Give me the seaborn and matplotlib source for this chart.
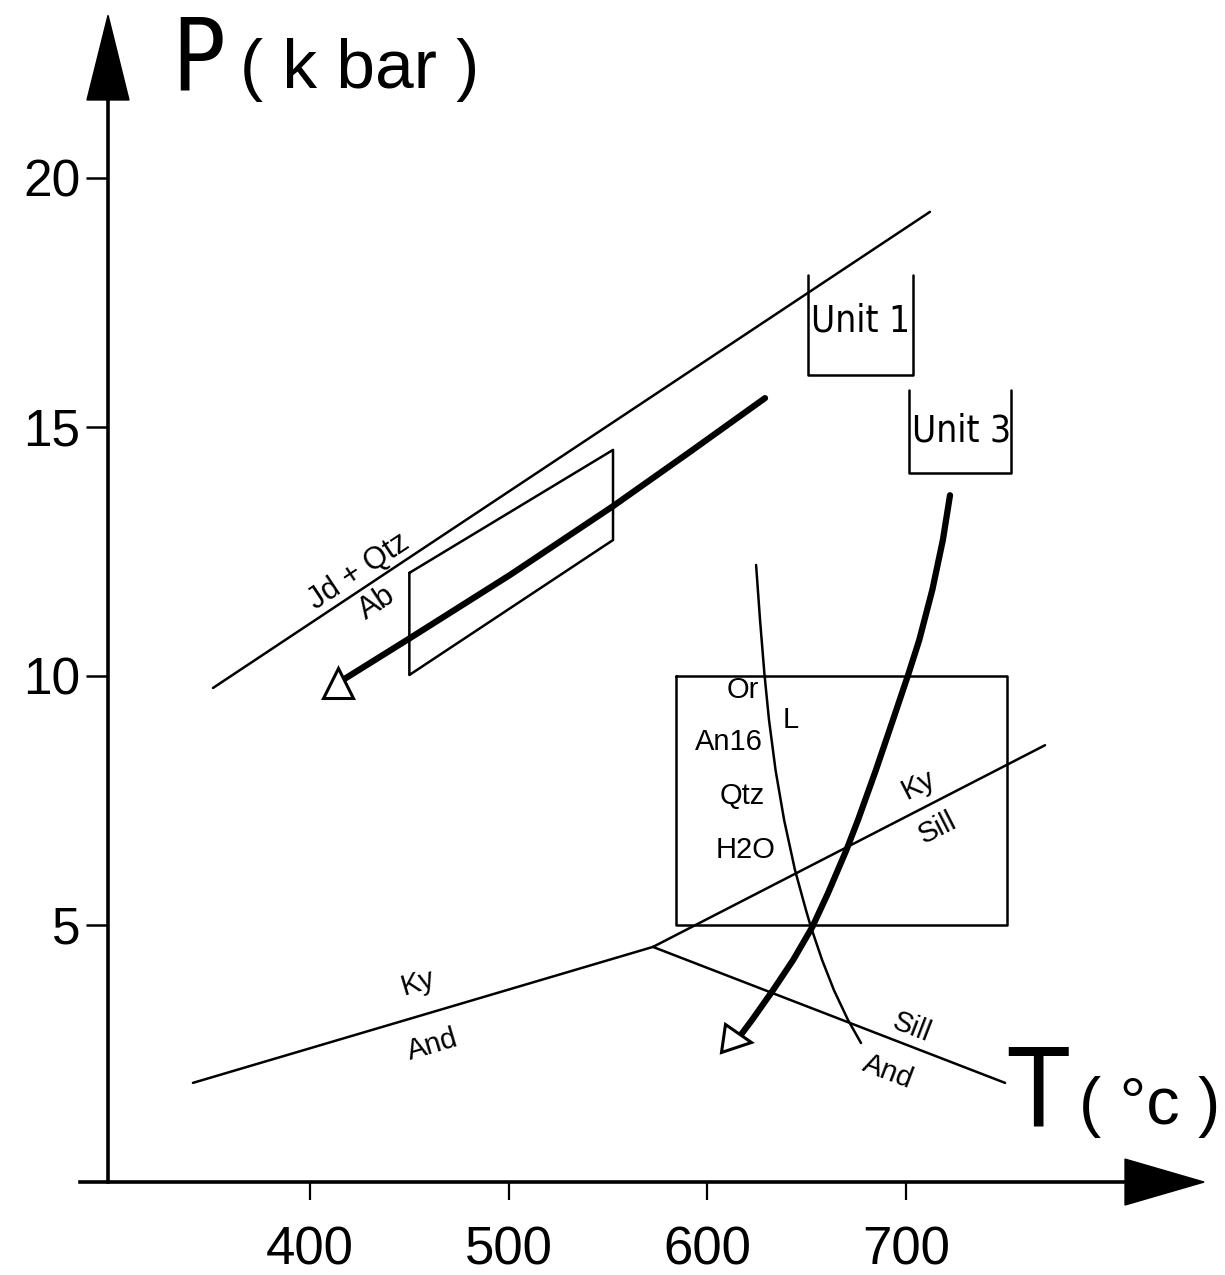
import matplotlib
matplotlib.use("Agg")
import matplotlib.pyplot as plt
from matplotlib import font_manager
from matplotlib.markers import MarkerStyle
from matplotlib.transforms import Affine2D
import numpy as np
import pandas as pd
import seaborn as sns

# ---------------- data (T in deg C, P in kbar) ----------------
jd_T = [351.2, 712.0]
jd_P = [9.76, 19.32]

para_T = [450.0, 552.5, 552.5, 450.0, 450.0]
para_P = [12.07, 14.54, 12.73, 10.02, 12.07]

path1_T = [629.0, 591.2, 552.5, 500.7, 450.3, 414.1]
path1_P = [15.58, 14.50, 13.41, 12.03, 10.76, 9.86]

path3_T = [722.1, 718.5, 713.2, 706.6, 701.0, 693.4, 684.8, 675.8, 670.0,
           660.7, 652.8, 643.2, 633.0, 622.4, 614.9]
path3_P = [13.63, 12.73, 11.73, 10.72, 10.02, 9.12, 8.11, 7.11, 6.51,
           5.64, 4.96, 4.30, 3.69, 3.09, 2.69]

melt_T = [624.5, 626.5, 628.7, 631.0, 634.3, 638.6, 644.1, 649.6, 652.1,
          657.7, 663.7, 670.8, 677.3]
melt_P = [12.23, 11.12, 10.04, 9.12, 8.11, 7.11, 6.10, 5.30, 4.96,
          4.30, 3.69, 3.09, 2.63]

rect_T = [584.0, 751.0, 751.0, 584.0, 584.0]
rect_P = [10.0, 10.0, 5.0, 5.0, 10.0]

ky_and_T = [341.1, 572.6]
ky_and_P = [1.83, 4.56]
ky_sill_T = [572.6, 769.9]
ky_sill_P = [4.56, 8.61]
sill_and_T = [572.6, 749.8]
sill_and_P = [4.56, 1.83]

unit1_T = [650.6, 650.6, 703.5, 703.5]
unit1_P = [18.05, 16.04, 16.04, 18.05]
unit3_T = [701.5, 701.5, 752.8, 752.8]
unit3_P = [15.74, 14.08, 14.08, 15.74]

x_ticks = [400, 500, 600, 700]
y_ticks = [5, 10, 15, 20]

# ---------------- style ----------------
sns.set_theme(style="white")
fonts = font_manager.fontManager.ttflist
names = {f.name for f in fonts}
REG = "Liberation Sans" if "Liberation Sans" in names else "DejaVu Sans"
if "Liberation Sans Narrow" in names:
    NAR, NAR_STRETCH, NAR_SCALE = "Liberation Sans Narrow", "normal", 1.0
elif any(f.name == "DejaVu Sans" and ("Condensed" in f.fname or
         str(f.stretch) in ("condensed", "semi-condensed")) for f in fonts):
    NAR, NAR_STRETCH, NAR_SCALE = "DejaVu Sans", "condensed", 0.95
else:
    NAR, NAR_STRETCH, NAR_SCALE = REG, "normal", 0.82
plt.rcParams["font.family"] = [REG, "DejaVu Sans"]
plt.rcParams["text.color"] = "black"
plt.rcParams["axes.edgecolor"] = "black"
plt.rcParams["xtick.color"] = "black"
plt.rcParams["ytick.color"] = "black"

fig = plt.figure(figsize=(12.25, 12.75), dpi=100)
ax = fig.add_axes([0, 0, 1, 1])
ax.set_facecolor("white")
fig.patch.set_facecolor("white")

THIN = 1.8
THICK = 4.5


def line(T, P, lw=THIN):
    sns.lineplot(x=T, y=P, ax=ax, sort=False, estimator=None,
                 color="black", linewidth=lw, legend=False)


line(jd_T, jd_P)
line(para_T, para_P)
line(melt_T, melt_P)
line(rect_T, rect_P)
line(ky_and_T, ky_and_P)
line(ky_sill_T, ky_sill_P)
line(sill_and_T, sill_and_P)
line(unit1_T, unit1_P)
line(unit3_T, unit3_P)
line(path1_T, path1_P, THICK)
line(path3_T, path3_P, THICK)

# open triangle heads at the ends of the two P-T paths
ax.plot(path1_T[-1], path1_P[-1], marker="^", ms=22, mfc="white",
        mec="black", mew=2.2, zorder=5, clip_on=False)
ax.plot(path3_T[-1], path3_P[-1],
        marker=MarkerStyle(">", transform=Affine2D().rotate_deg(-8)),
        ms=20, mfc="white", mec="black", mew=2.2, zorder=5, clip_on=False)

ax.set_xlim(243.99, 860.49)
ax.set_ylim(-2.028, 23.574)

# axes as in the sketch
for s in ["top", "right"]:
    ax.spines[s].set_visible(False)
ax.spines["left"].set_position(("data", 298.3))
ax.spines["bottom"].set_position(("data", -0.16))
ax.spines["left"].set_bounds(-0.16, 21.7)
ax.spines["bottom"].set_bounds(284.2, 812.0)
ax.spines["left"].set_linewidth(2.6)
ax.spines["bottom"].set_linewidth(2.6)
ax.grid(False)

ax.set_xticks(x_ticks)
ax.set_yticks(y_ticks)
ax.set_xticklabels([str(v) for v in x_ticks])
ax.set_yticklabels([str(v) for v in y_ticks])
ax.tick_params(axis="x", bottom=True, direction="out", length=13, width=1.6,
               pad=18, labelsize=38)
ax.tick_params(axis="y", left=True, direction="out", length=16, width=1.8,
               pad=4, labelsize=37)

# axis arrow heads (axes fraction = figure fraction here)
ax.fill([0.0882, 0.0710, 0.1053], [0.988, 0.9216, 0.9216], color="black",
        transform=ax.transAxes, clip_on=False, zorder=6)
ax.fill([0.9829, 0.9184, 0.9184], [0.0729, 0.0909, 0.0549], color="black",
        transform=ax.transAxes, clip_on=False, zorder=6)

# axis titles
ax.text(343.6, 22.33, "P", fontsize=75 * NAR_SCALE, family=[NAR, "DejaVu Sans"],
        fontstretch=NAR_STRETCH, ha="center", va="center")
ax.text(425.2, 22.17, "( k bar )", fontsize=50, ha="center", va="center")
ax.text(766.4, 1.57, "T", fontsize=82 * NAR_SCALE, family=[NAR, "DejaVu Sans"],
        fontstretch=NAR_STRETCH, ha="center", va="center")
ax.text(822.7, 1.35, "( °c )", fontsize=48, ha="center", va="center")

# reaction labels
ax.text(424.7, 12.09, "Jd + Qtz", fontsize=22, rotation=33.6,
        ha="center", va="center", rotation_mode="anchor")
ax.text(433.7, 11.47, "Ab", fontsize=22, rotation=33.6,
        ha="center", va="center", rotation_mode="anchor")

ax.text(677.0, 17.12, "Unit 1", fontsize=28 * NAR_SCALE, family=[NAR, "DejaVu Sans"],
        fontstretch=NAR_STRETCH, ha="center", va="center")
ax.text(727.8, 14.92, "Unit 3", fontsize=28 * NAR_SCALE, family=[NAR, "DejaVu Sans"],
        fontstretch=NAR_STRETCH, ha="center", va="center")

for txt, t, p in [("Or", 617.9, 9.72), ("An16", 610.9, 8.67),
                  ("Qtz", 617.4, 7.59), ("H2O", 619.4, 6.51),
                  ("L", 642.1, 9.12)]:
    ax.text(t, p, txt, fontsize=21, ha="center", va="center")

ax.text(706.0, 7.81, "Ky", fontsize=21, rotation=27,
        ha="center", va="center", rotation_mode="anchor")
ax.text(715.6, 6.95, "Sill", fontsize=21, rotation=27,
        ha="center", va="center", rotation_mode="anchor")
ax.text(454.4, 3.85, "Ky", fontsize=21, rotation=16.5,
        ha="center", va="center", rotation_mode="anchor")
ax.text(461.4, 2.59, "And", fontsize=21, rotation=16.5,
        ha="center", va="center", rotation_mode="anchor")
ax.text(703.0, 2.95, "Sill", fontsize=21, rotation=-21,
        ha="center", va="center", rotation_mode="anchor")
ax.text(690.9, 2.05, "And", fontsize=21, rotation=-21,
        ha="center", va="center", rotation_mode="anchor")

fig.savefig("out.png", dpi=100, facecolor="white")
